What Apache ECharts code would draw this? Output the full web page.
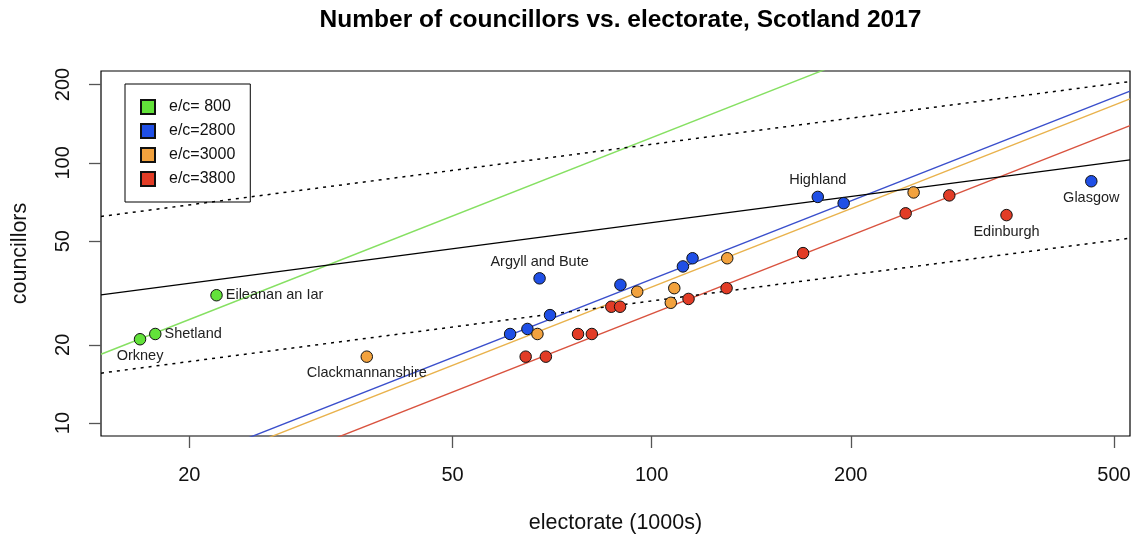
<!DOCTYPE html>
<html>
<head>
<meta charset="utf-8">
<script src="https://cdn.jsdelivr.net/npm/echarts@6/dist/echarts.min.js"></script>
<style>
  html, body { margin: 0; padding: 0; background: #fff; }
  #chart { width: 1137px; height: 539px; }
</style>
</head>
<body>
<div id="chart"></div>
<script>
// Electorate in thousands, councillors per council, grouped by e/c band
const greenElectorate = [16.85, 17.77, 21.99];
const greenCouncillors = [21, 22, 31];
const greenNames = ['Orkney', 'Shetland', 'Eileanan an Iar'];

const blueElectorate = [67.7, 61.1, 64.9, 70.2, 89.7, 111.5, 115.3, 178.3, 195.1, 462];
const blueCouncillors = [36, 22, 23, 26, 34, 40, 43, 74, 70, 85];
const blueNames = ['Argyll and Bute', '', '', '', '', '', '', 'Highland', '', 'Glasgow'];

const orangeElectorate = [37.1, 67.2, 95.1, 106.9, 108.2, 130.1, 248.9];
const orangeCouncillors = [18, 22, 32, 29, 33, 43, 77];
const orangeNames = ['Clackmannanshire', '', '', '', '', '', ''];

const redElectorate = [64.5, 69.2, 77.4, 81.2, 86.9, 89.6, 113.7, 129.8, 169.4, 242.1, 281.8, 343.9];
const redCouncillors = [18, 18, 22, 22, 28, 28, 30, 33, 45, 64, 75, 63];
const redNames = ['', '', '', '', '', '', '', '', '', '', '', 'Edinburgh'];

// Electors per councillor for each band
const ratios = [800, 2800, 3000, 3800];
const legendNames = ['e/c= 800', 'e/c=2800', 'e/c=3000', 'e/c=3800'];

// Power-law trend: councillors = FIT_COEF * electorate^FIT_EXP, with x2 and x0.5 bands
const FIT_COEF = 12.7;
const FIT_EXP = 1 / 3;
const bandFactors = [2, 0.5];

// Axis ticks
const xTicks = [20, 50, 100, 200, 500];
const yTicks = [10, 20, 50, 100, 200];
const X_MIN = 14.71, X_MAX = 528.6;
const Y_MIN = 8.92, Y_MAX = 225.5;

const FONT = '"Liberation Sans", Arial, Helvetica, sans-serif';
const pointColors = ['#62e23a', '#1f4fe6', '#f2a23e', '#e23c26'];
const lineColors = ['#86e062', '#3a4fcc', '#e9b24c', '#d9533f'];

// Placement of council name labels
const labelPlacement = {
  'Orkney': 'bottom', 'Shetland': 'right', 'Eileanan an Iar': 'right',
  'Clackmannanshire': 'bottom', 'Argyll and Bute': 'top', 'Highland': 'top',
  'Glasgow': 'bottom', 'Edinburgh': 'bottom'
};

const groups = [
  [greenElectorate, greenCouncillors, greenNames],
  [blueElectorate, blueCouncillors, blueNames],
  [orangeElectorate, orangeCouncillors, orangeNames],
  [redElectorate, redCouncillors, redNames]
];

function straight(f) {
  return [[X_MIN, f(X_MIN)], [X_MAX, f(X_MAX)]];
}

const series = [];

// Constant-ratio lines
ratios.forEach((r, i) => {
  series.push({
    name: 'ratio ' + r, type: 'line', symbol: 'none', silent: true, z: 2,
    clip: true,
    lineStyle: { color: lineColors[i], width: 1.4 },
    data: straight(x => x * 1000 / r)
  });
});

// Trend line and its bands
series.push({
  name: 'trend', type: 'line', symbol: 'none', silent: true, z: 2, clip: true,
  lineStyle: { color: '#000', width: 1.3 },
  data: straight(x => FIT_COEF * Math.pow(x, FIT_EXP))
});
bandFactors.forEach(k => {
  series.push({
    name: 'band ' + k, type: 'line', symbol: 'none', silent: true, z: 2, clip: true,
    lineStyle: { color: '#000', width: 1.5, type: [3, 5] },
    data: straight(x => k * FIT_COEF * Math.pow(x, FIT_EXP))
  });
});

// Council points
groups.forEach(([elec, coun, names], i) => {
  series.push({
    name: legendNames[i], type: 'scatter', z: 5,
    symbol: 'circle', symbolSize: 11.5,
    itemStyle: { color: pointColors[i], borderColor: '#111', borderWidth: 1, opacity: 1 },
    data: elec.map((e, j) => {
      const item = { value: [e, coun[j]], name: names[j] };
      if (names[j]) {
        item.label = {
          show: true, formatter: names[j], position: labelPlacement[names[j]],
          distance: 3, color: '#222', fontSize: 14.5, fontFamily: FONT
        };
      }
      return item;
    })
  });
});

const chart = echarts.init(document.getElementById('chart'), null, { renderer: 'canvas' });
chart.setOption({
  animation: false,
  backgroundColor: '#fff',
  title: {
    text: 'Number of councillors vs. electorate, Scotland 2017',
    left: 615.5, top: 3, textAlign: 'center',
    textStyle: { fontFamily: FONT, fontSize: 24.5, fontWeight: 'bold', color: '#000' }
  },
  legend: {
    data: legendNames, orient: 'vertical', left: 125, top: 84,
    icon: 'rect', itemWidth: 14, itemHeight: 14, itemGap: 8,
    padding: [15, 15, 15, 15], borderColor: '#000', borderWidth: 1,
    selectedMode: false,
    textStyle: { fontFamily: FONT, fontSize: 16, color: '#111', padding: [0, 0, 0, 9] }
  },
  grid: {
    show: true, left: 101, top: 71, width: 1029, height: 366,
    borderColor: '#000', borderWidth: 1.2, backgroundColor: 'transparent'
  },
  xAxis: {
    type: 'log', logBase: 10, min: X_MIN, max: X_MAX,
    name: 'electorate (1000s)', nameLocation: 'middle', nameGap: 76,
    nameTextStyle: { fontFamily: FONT, fontSize: 21.5, color: '#111' },
    axisLine: { show: false },
    axisTick: { show: true, length: 12, customValues: xTicks, lineStyle: { color: '#555', width: 1.3 } },
    axisLabel: { customValues: xTicks, margin: 29, fontFamily: FONT, fontSize: 20, color: '#111' },
    splitLine: { show: false }, minorTick: { show: false }
  },
  yAxis: {
    type: 'log', logBase: 10, min: Y_MIN, max: Y_MAX,
    name: 'councillors', nameLocation: 'middle', nameGap: 70,
    nameTextStyle: { fontFamily: FONT, fontSize: 21.5, color: '#111' },
    axisLine: { show: false },
    axisTick: { show: true, length: 12, customValues: yTicks, lineStyle: { color: '#555', width: 1.3 } },
    axisLabel: { customValues: yTicks, rotate: 90, margin: 28, fontFamily: FONT, fontSize: 20, color: '#111' },
    splitLine: { show: false }, minorTick: { show: false }
  },
  series: series
});
</script>
</body>
</html>
